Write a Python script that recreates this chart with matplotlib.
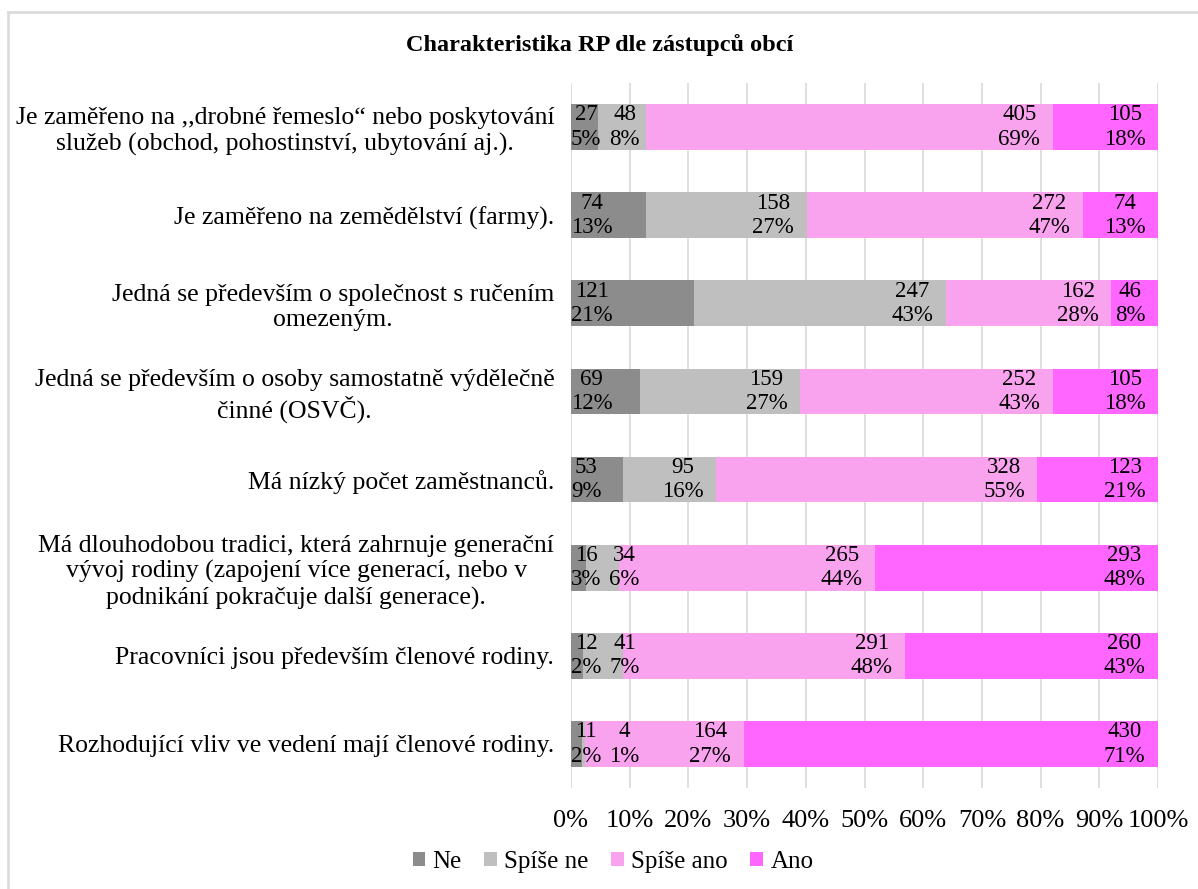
import matplotlib
matplotlib.use("Agg")
import matplotlib.pyplot as plt
from matplotlib.lines import Line2D
import numpy as np

categories = [
    "Je zaměřeno na ,,drobné řemeslo\u201c nebo poskytování\nslužeb (obchod, pohostinství, ubytování aj.).",
    "Je zaměřeno na zemědělství (farmy).",
    "Jedná se především o společnost s ručením\nomezeným.",
    "Jedná se především o osoby samostatně výdělečně\nčinné (OSVČ).",
    "Má nízký počet zaměstnanců.",
    "Má dlouhodobou tradici, která zahrnuje generační\nvývoj rodiny (zapojení více generací, nebo v\npodnikání pokračuje další generace).",
    "Pracovníci jsou především členové rodiny.",
    "Rozhodující vliv ve vedení mají členové rodiny.",
]

series_names = ["Ne", "Spíše ne", "Spíše ano", "Ano"]
ne        = [27, 74, 121, 69, 53, 16, 12, 11]
spise_ne  = [48, 158, 247, 159, 95, 34, 41, 4]
spise_ano = [405, 272, 162, 252, 328, 265, 291, 164]
ano       = [105, 74, 46, 105, 123, 293, 260, 430]
pct_ne        = [5, 13, 21, 12, 9, 3, 2, 2]
pct_spise_ne  = [8, 27, 43, 27, 16, 6, 7, 1]
pct_spise_ano = [69, 47, 28, 43, 55, 44, 48, 27]
pct_ano       = [18, 13, 8, 18, 21, 48, 43, 71]
xticks = [0, 10, 20, 30, 40, 50, 60, 70, 80, 90, 100]
title = "Charakteristika RP dle zástupců obcí"

colors = ["#8c8c8c", "#bfbfbf", "#f9a3ee", "#ff66ff"]

plt.rcParams['font.family'] = ['Liberation Serif', 'DejaVu Serif']

fig = plt.figure(figsize=(11.98, 8.89), dpi=100)
W, H = 1198, 889
ax = fig.add_axes([571 / W, 1 - 788 / H, (1158 - 571) / W, (788 - 83) / H])

counts = np.array([ne, spise_ne, spise_ano, ano], dtype=float)
pcts = [pct_ne, pct_spise_ne, pct_spise_ano, pct_ano]
totals = counts.sum(axis=0)
shares = counts / totals * 100
y = np.arange(len(categories))

left = np.zeros(len(categories))
segs = []
for i, name in enumerate(series_names):
    ax.barh(y, shares[i], left=left, height=0.52, color=colors[i],
            label=name, zorder=2)
    segs.append((left.copy(), shares[i].copy()))
    left += shares[i]

ax.set_xlim(0, 100)
ax.set_ylim(len(categories) - 0.5, -0.5)
ax.set_xticks(xticks)
ax.set_xticklabels([f"{t}%" for t in xticks], fontsize=19)
ax.set_yticks(y)
ax.set_yticklabels(categories, fontsize=18.5)
for lab in ax.get_yticklabels():
    lab.set_multialignment('center')
    lab.set_linespacing(1.2)
ax.tick_params(axis='x', length=0, pad=16)
ax.tick_params(axis='y', length=0, pad=12)
ax.grid(axis='x', color='#d9d9d9', linewidth=1.2, zorder=0)
ax.set_axisbelow(True)
for s in ax.spines.values():
    s.set_visible(False)

# data labels
fig.canvas.draw()
renderer = fig.canvas.get_renderer()
for r in range(len(categories)):
    prev = None
    for i in range(4):
        l0, w = segs[i][0][r], segs[i][1][r]
        txt = f"{int(counts[i][r])}\n{pcts[i][r]}%"
        if i == 0:
            t = ax.annotate(txt, (0, r), xytext=(0, 0), textcoords='offset points',
                            ha='left', va='center', fontsize=16.5, multialignment='center',
                            linespacing=1.2, zorder=3)
        else:
            t = ax.annotate(txt, (l0 + w, r), xytext=(-9, 0), textcoords='offset points',
                            ha='right', va='center', fontsize=16.5, multialignment='center',
                            linespacing=1.2, zorder=3)
        bb = t.get_window_extent(renderer)
        if prev is not None and bb.x0 < prev.x1 + 4:
            shift = (prev.x1 + 8 - bb.x0) * 72 / fig.dpi
            t.set_position((-9 + shift, 0))
            bb = t.get_window_extent(renderer)
        prev = bb

fig.text(600 / W, 1 - 45 / H, title, ha='center', va='center', fontsize=17.5,
         fontweight='bold')

fig.legend(loc='center', bbox_to_anchor=(613 / W, 1 - 862 / H), ncol=4, frameon=False,
           fontsize=18, handlelength=0.5, handleheight=0.5, handletextpad=0.3,
           columnspacing=0.9)

fig.add_artist(Line2D([8 / W, 8 / W], [0, 1 - 12 / H], transform=fig.transFigure,
                      color='#d9d9d9', linewidth=1.8))
fig.add_artist(Line2D([8 / W, 1], [1 - 12 / H, 1 - 12 / H], transform=fig.transFigure,
                      color='#d9d9d9', linewidth=1.8))

fig.savefig("out.png", dpi=100)
